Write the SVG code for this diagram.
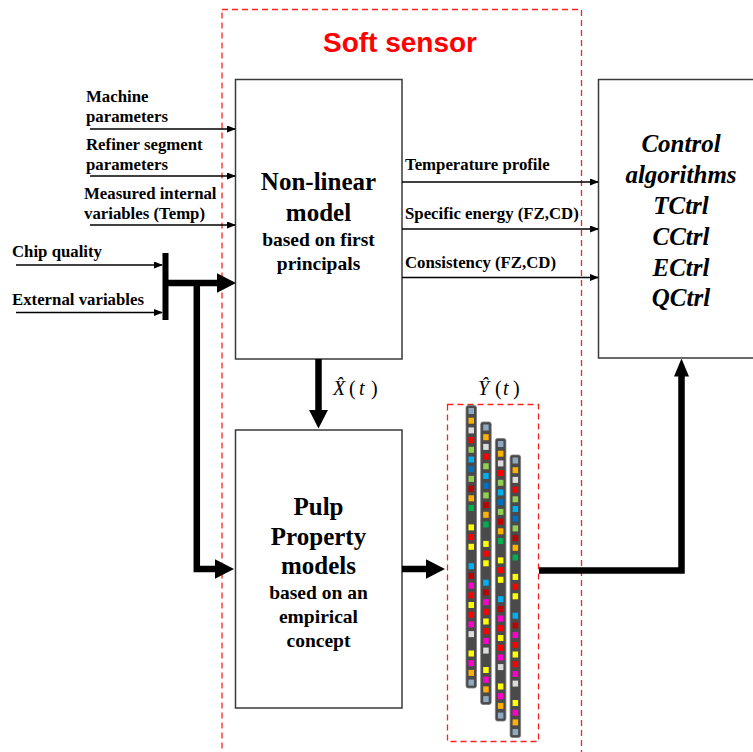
<svg xmlns="http://www.w3.org/2000/svg" xmlns:xlink="http://www.w3.org/1999/xlink" width="753" height="752" viewBox="0 0 753 752">
  <style>
    .box { fill: #ffffff; stroke: #3a3a3a; stroke-width: 1.5; }
    .dash { fill: none; stroke: #ff2020; stroke-width: 1.3; stroke-dasharray: 6 4; }
    .lbl { font-family: "Liberation Serif", "Times New Roman", serif; font-weight: bold; font-size: 16.8px; fill: #000; }
    .title { font-family: "Liberation Serif", "Times New Roman", serif; font-weight: bold; font-size: 25px; fill: #000; text-anchor: middle; }
    .body { font-family: "Liberation Serif", "Times New Roman", serif; font-weight: bold; font-size: 19.5px; fill: #000; text-anchor: middle; }
    .ctrl { font-family: "Liberation Serif", "Times New Roman", serif; font-weight: bold; font-style: italic; font-size: 25px; fill: #000; text-anchor: middle; }
    .math { font-family: "Liberation Serif", "Times New Roman", serif; font-size: 20px; fill: #000; }
    .thin { stroke: #000; stroke-width: 1.3; fill: none; }
    .thick { stroke: #000; stroke-width: 6.5; fill: none; }
    .gb { fill: #8fa9c2; } .or { fill: #ffb000; } .lg { fill: #dcdcdc; } .rd { fill: #ff0000; }
    .gr { fill: #92d050; } .cy { fill: #00b0f0; } .bl { fill: #0070c0; } .dr { fill: #c00000; }
    .dg { fill: #00b050; } .ye { fill: #ffff00; } .mg { fill: #ff00cc; }
  </style>
  <defs>
    <marker id="small" markerUnits="userSpaceOnUse" markerWidth="9" markerHeight="7" refX="8" refY="3.5" orient="auto">
      <path d="M0,0 L9,3.5 L0,7 z" fill="#000"/>
    </marker>
    <marker id="big" markerUnits="userSpaceOnUse" markerWidth="19" markerHeight="20" refX="0.5" refY="10" orient="auto">
      <path d="M0,0.3 L19,10 L0,19.7 z" fill="#000"/>
    </marker>
    <marker id="bigUp" markerUnits="userSpaceOnUse" markerWidth="18" markerHeight="16" refX="0.5" refY="8" orient="auto">
      <path d="M0,0.5 L18,8 L0,15.5 z" fill="#000"/>
    </marker>
    <!-- one measurement bar with its coloured cells -->
    <g id="strip">
      <rect x="0" y="0" width="10.5" height="282.5" rx="2.2" fill="#4a4a4a" stroke="#7a7a7a" stroke-width="0.8"/>
      <rect class="gb" x="2.5" y="2.5" width="5.5" height="6"/>
      <rect class="or" x="2.5" y="12.2" width="5.5" height="6"/>
      <rect class="lg" x="2.5" y="21.9" width="5.5" height="6"/>
      <rect class="rd" x="2.5" y="31.6" width="5.5" height="6"/>
      <rect class="gr" x="2.5" y="41.3" width="5.5" height="6"/>
      <rect class="cy" x="2.5" y="51" width="5.5" height="6"/>
      <rect class="bl" x="2.5" y="60.7" width="5.5" height="6"/>
      <rect class="gr" x="2.5" y="70.4" width="5.5" height="6"/>
      <rect class="dr" x="2.5" y="80.1" width="5.5" height="6"/>
      <rect class="or" x="2.5" y="89.8" width="5.5" height="6"/>
      <rect class="dg" x="2.5" y="99.5" width="5.5" height="6"/>
      <rect class="ye" x="2.5" y="118.9" width="5.5" height="6"/>
      <rect class="rd" x="2.5" y="128.6" width="5.5" height="6"/>
      <rect class="ye" x="2.5" y="138.3" width="5.5" height="6"/>
      <rect class="cy" x="2.5" y="157.7" width="5.5" height="6"/>
      <rect class="dr" x="2.5" y="167.4" width="5.5" height="6"/>
      <rect class="mg" x="2.5" y="177.1" width="5.5" height="6"/>
      <rect class="rd" x="2.5" y="186.8" width="5.5" height="6"/>
      <rect class="ye" x="2.5" y="196.5" width="5.5" height="6"/>
      <rect class="rd" x="2.5" y="206.2" width="5.5" height="6"/>
      <rect class="mg" x="2.5" y="215.9" width="5.5" height="6"/>
      <rect class="lg" x="2.5" y="225.6" width="5.5" height="6"/>
      <rect class="ye" x="2.5" y="245" width="5.5" height="6"/>
      <rect class="mg" x="2.5" y="254.7" width="5.5" height="6"/>
      <rect class="or" x="2.5" y="264.4" width="5.5" height="6"/>
      <rect class="gb" x="2.5" y="274.1" width="5.5" height="6"/>
    </g>
  </defs>

  <rect width="753" height="752" fill="#ffffff"/>

  <!-- soft sensor frame -->
  <g id="soft-sensor">
    <rect class="dash" x="222" y="9.5" width="359.5" height="760"/>
    <text x="400" y="52" font-family="'Liberation Sans', Arial, sans-serif" font-weight="bold" font-size="28" fill="#ff0000" text-anchor="middle">Soft sensor</text>
  </g>

  <!-- input labels -->
  <g id="inputs">
    <text class="lbl" x="86" y="102">Machine</text>
    <text class="lbl" x="86" y="122">parameters</text>
    <text class="lbl" x="86" y="149.5">Refiner segment</text>
    <text class="lbl" x="86" y="169.5">parameters</text>
    <text class="lbl" x="84" y="198.5">Measured internal</text>
    <text class="lbl" x="84" y="218.5">variables (Temp)</text>
    <text class="lbl" x="12" y="257">Chip quality</text>
    <text class="lbl" x="12" y="304.5">External variables</text>
  </g>

  <g id="nonlinear-model">
    <rect class="box" x="235.5" y="79.5" width="166.5" height="279.5"/>
    <text class="title" x="318.5" y="190">Non-linear</text>
    <text class="title" x="318.5" y="221">model</text>
    <text class="body" x="318.5" y="246">based on first</text>
    <text class="body" x="318.5" y="270">principals</text>
  </g>

  <!-- model output labels -->
  <g id="outputs">
    <text class="lbl" x="405" y="170" font-size="16.3">Temperature profile</text>
    <text class="lbl" x="405" y="218.5" font-size="16.3">Specific energy (FZ,CD)</text>
    <text class="lbl" x="405" y="267.5" font-size="16.3">Consistency (FZ,CD)</text>
  </g>

  <g id="pulp-property-models">
    <rect class="box" x="235.5" y="430" width="166.5" height="278"/>
    <text class="title" x="318.5" y="515">Pulp</text>
    <text class="title" x="318.5" y="545">Property</text>
    <text class="title" x="318.5" y="574">models</text>
    <text class="body" x="318.5" y="599">based on an</text>
    <text class="body" x="318.5" y="623">empirical</text>
    <text class="body" x="318.5" y="647">concept</text>
  </g>

  <g id="control-algorithms">
    <rect class="box" x="598.5" y="79.5" width="170" height="278.5"/>
    <text class="ctrl" x="681" y="152">Control</text>
    <text class="ctrl" x="681" y="183">algorithms</text>
    <text class="ctrl" x="681" y="214">TCtrl</text>
    <text class="ctrl" x="681" y="245">CCtrl</text>
    <text class="ctrl" x="681" y="276">ECtrl</text>
    <text class="ctrl" x="681" y="306">QCtrl</text>
  </g>

  <g id="pulp-estimates">
    <rect class="dash" x="447.5" y="404.5" width="91" height="337"/>
    <use xlink:href="#strip" x="466" y="405.5"/>
    <use xlink:href="#strip" x="480.7" y="422"/>
    <use xlink:href="#strip" x="495.4" y="438.5"/>
    <use xlink:href="#strip" x="510.1" y="455"/>
  </g>

  <!-- estimate symbols: hatted X and Y of t -->
  <g id="math-labels">
    <text class="math" y="395"><tspan x="333" font-style="italic">X̂</tspan><tspan x="349">(</tspan><tspan x="359" font-style="italic">t</tspan><tspan x="371">)</tspan></text>
    <text class="math" y="395"><tspan x="478" font-style="italic">Ŷ</tspan><tspan x="495">(</tspan><tspan x="503" font-style="italic">t</tspan><tspan x="513">)</tspan></text>
  </g>

  <g id="connectors">
    <!-- inputs to the non-linear model -->
    <line class="thin" x1="90" y1="129" x2="235" y2="129" marker-end="url(#small)"/>
    <line class="thin" x1="90" y1="176" x2="235" y2="176" marker-end="url(#small)"/>
    <line class="thin" x1="90" y1="225" x2="235" y2="225" marker-end="url(#small)"/>
    <line class="thin" x1="16" y1="265" x2="162" y2="265" marker-end="url(#small)"/>
    <line class="thin" x1="16" y1="312.5" x2="162" y2="312.5" marker-end="url(#small)"/>
    <!-- collector bar and its branches -->
    <rect x="162.5" y="253" width="6" height="67" fill="#000"/>
    <line class="thick" x1="166" y1="283" x2="217.5" y2="283" marker-end="url(#big)"/>
    <polyline class="thick" points="196.8,283 196.8,569 215.5,569" marker-end="url(#big)"/>
    <!-- model outputs -->
    <line class="thin" x1="402" y1="182" x2="598" y2="182" marker-end="url(#small)"/>
    <line class="thin" x1="402" y1="229" x2="598" y2="229" marker-end="url(#small)"/>
    <line class="thin" x1="402" y1="277.5" x2="598" y2="277.5" marker-end="url(#small)"/>
    <!-- state estimate down to the pulp models -->
    <line class="thick" x1="318.5" y1="359" x2="318.5" y2="410" marker-end="url(#big)"/>
    <!-- pulp models to estimates -->
    <line class="thick" x1="402" y1="569" x2="426.5" y2="569" marker-end="url(#big)"/>
    <!-- estimates to control -->
    <polyline class="thick" points="539,570.5 681.5,570.5 681.5,376" stroke-width="5.5" marker-end="url(#bigUp)"/>
  </g>
</svg>
